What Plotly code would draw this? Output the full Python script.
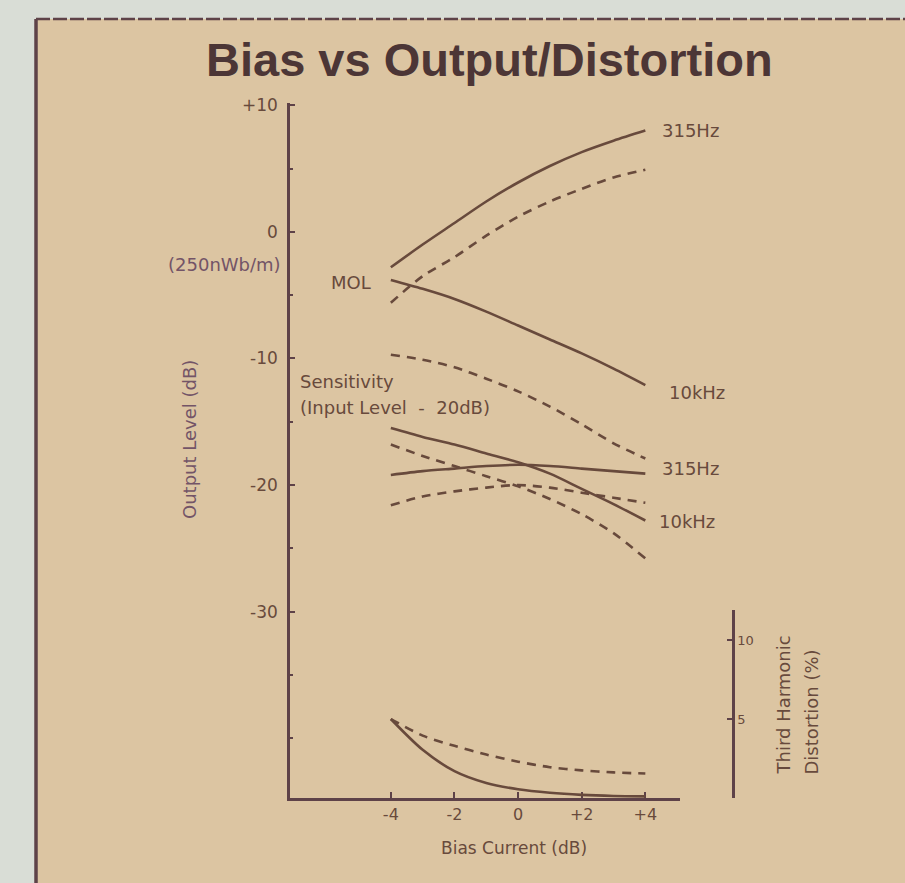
import plotly.graph_objects as go

# Bias current offsets (dB)
bias = [-4, -3, -2, -1, 0, 1, 2, 3, 4]

# Output level (dB) at MOL - solid: test tape, dashed: reference tape
mol_315 = [-2.8, -1.0, 0.7, 2.4, 3.9, 5.2, 6.3, 7.2, 8.0]
mol_315_ref = [-5.6, -3.5, -2.0, -0.3, 1.2, 2.4, 3.4, 4.3, 4.9]
mol_10k = [-3.8, -4.5, -5.3, -6.3, -7.4, -8.5, -9.6, -10.8, -12.1]
mol_10k_ref = [-9.7, -10.1, -10.7, -11.6, -12.6, -13.8, -15.2, -16.7, -17.9]

# Sensitivity (input level -20 dB)
sens_10k = [-15.5, -16.2, -16.8, -17.5, -18.2, -19.1, -20.3, -21.5, -22.8]
sens_315 = [-19.2, -18.9, -18.7, -18.5, -18.4, -18.5, -18.7, -18.9, -19.1]
sens_10k_ref = [-16.8, -17.7, -18.5, -19.3, -20.1, -21.1, -22.3, -23.8, -25.8]
sens_315_ref = [-21.6, -20.9, -20.5, -20.2, -20.0, -20.2, -20.6, -21.0, -21.4]

# Third harmonic distortion (%)
thd = [5.0, 3.05, 1.7, 0.95, 0.55, 0.33, 0.2, 0.13, 0.1]
thd_ref = [5.0, 3.95, 3.3, 2.75, 2.3, 1.95, 1.75, 1.62, 1.55]

x_ticks = [-4, -2, 0, 2, 4]
x_tick_text = ["-4", "-2", "0", "+2", "+4"]
y_ticks = [10, 0, -10, -20, -30]
y_tick_text = ["+10", "0", "-10", "-20", "-30"]
thd_ticks = [5, 10]
thd_tick_text = ["5", "10"]

W, H = 905, 883
INK = "#684a3c"
AXIS = "#5e4248"
PURPLE = "#735467"
TAN = "#dcc5a2"
LABEL_FONT = dict(family="DejaVu Sans", size=18, color=INK)


def px(x):
    return x / W


def py(y):
    return 1 - y / H


fig = go.Figure()

solid = dict(color=INK, width=2.6, shape="spline", smoothing=0.8)
dashed = dict(color=INK, width=2.6, dash="9px,7px", shape="spline", smoothing=0.8)

for ys, ln in [
    (mol_315, solid), (mol_315_ref, dashed),
    (mol_10k, solid), (mol_10k_ref, dashed),
    (sens_10k, solid), (sens_315, solid),
    (sens_10k_ref, dashed), (sens_315_ref, dashed),
]:
    fig.add_trace(go.Scatter(x=bias, y=ys, mode="lines", line=ln,
                             showlegend=False, hoverinfo="skip"))

fig.add_trace(go.Scatter(x=bias, y=thd, mode="lines", line=solid,
                         yaxis="y2", showlegend=False, hoverinfo="skip"))
fig.add_trace(go.Scatter(x=bias, y=thd_ref, mode="lines", line=dashed,
                         yaxis="y2", showlegend=False, hoverinfo="skip"))

tick_font = dict(family="DejaVu Sans", size=17, color=INK)

fig.update_layout(
    width=W, height=H, autosize=False,
    margin=dict(l=0, r=0, t=0, b=0),
    paper_bgcolor="#d9ddd6",
    plot_bgcolor="rgba(0,0,0,0)",
    xaxis=dict(
        domain=[px(290), px(680)], range=[-7.17, 5.09], anchor="y",
        showgrid=False, zeroline=False, showline=True, linecolor=AXIS, linewidth=2.5,
        tickvals=x_ticks, ticktext=x_tick_text, ticks="inside", ticklen=6,
        tickcolor=AXIS, tickwidth=2, tickfont=dict(family="DejaVu Sans", size=16, color=INK),
        automargin=False,
    ),
    yaxis=dict(
        domain=[py(798), py(103)], range=[-44.72, 10.18], anchor="x",
        showgrid=False, zeroline=False, showline=True, linecolor=AXIS, linewidth=2.5,
        tickvals=y_ticks, ticktext=y_tick_text, ticks="inside", ticklen=5,
        tickcolor=AXIS, tickwidth=2, tickfont=tick_font, ticklabelstandoff=6,
        minor=dict(dtick=5, ticks="inside", ticklen=3, tickcolor=AXIS),
        automargin=False,
    ),
    yaxis2=dict(
        domain=[py(798), py(610)], range=[0, 11.9], anchor="free",
        position=px(733), side="right",
        showgrid=False, zeroline=False, showline=True, linecolor=AXIS, linewidth=2.5,
        tickvals=thd_ticks, ticktext=thd_tick_text, ticks="inside", ticklen=5,
        tickcolor=AXIS, tickwidth=2,
        tickfont=dict(family="DejaVu Sans", size=13, color=INK),
        automargin=False,
    ),
)

# Panel background and its left / top edges
fig.add_shape(type="rect", xref="paper", yref="paper",
              x0=px(36), x1=px(W + 5), y0=py(H + 5), y1=py(19),
              fillcolor=TAN, line=dict(width=0), layer="below")
fig.add_shape(type="line", xref="paper", yref="paper",
              x0=px(36), x1=px(36), y0=py(H + 5), y1=py(19),
              line=dict(color=AXIS, width=3.5), layer="below")
fig.add_shape(type="line", xref="paper", yref="paper",
              x0=px(36), x1=px(W + 5), y0=py(19), y1=py(19),
              line=dict(color=AXIS, width=2.5, dash="14px,3px"), layer="below")

annotations = [
    # Title
    dict(text="<b>Bias vs Output/Distortion</b>", x=px(489), y=py(60),
         font=dict(family="Liberation Sans", size=47, color="#4c3636")),
    # Axis titles
    dict(text="Bias Current (dB)", x=px(514), y=py(848),
         font=dict(family="DejaVu Sans", size=17, color=INK)),
    dict(text="Output Level (dB)", x=px(189), y=py(440), textangle=-90,
         font=dict(family="DejaVu Sans", size=18, color=PURPLE)),
    dict(text="Third Harmonic", x=px(783), y=py(777), textangle=-90, yanchor="bottom",
         font=dict(family="DejaVu Sans", size=18, color=INK)),
    dict(text="Distortion (%)", x=px(811), y=py(777), textangle=-90, yanchor="bottom",
         font=dict(family="DejaVu Sans", size=18, color=INK)),
    dict(text="(250nWb/m)", x=px(283), y=py(265), xanchor="right",
         font=dict(family="DejaVu Sans", size=18, color=PURPLE)),
]
for a in annotations:
    a.setdefault("xref", "paper")
    a.setdefault("yref", "paper")
    a.setdefault("showarrow", False)
    a.setdefault("xanchor", "center")
    a.setdefault("yanchor", "middle")
    fig.add_annotation(**a)

# Curve labels in data coordinates
curve_labels = [
    ("315Hz", 4.47, 8.0, "left"),
    ("10kHz", 4.69, -12.7, "left"),
    ("315Hz", 4.47, -18.7, "left"),
    ("10kHz", 4.37, -22.9, "left"),
    ("MOL", -4.55, -4.0, "right"),
    ("Sensitivity", -6.92, -11.8, "left"),
    ("(Input Level  -  20dB)", -6.92, -13.85, "left"),
]
for text, x, y, anchor in curve_labels:
    fig.add_annotation(text=text, x=x, y=y, xref="x", yref="y", showarrow=False,
                       xanchor=anchor, yanchor="middle", font=LABEL_FONT)

fig.write_html("out.html")
